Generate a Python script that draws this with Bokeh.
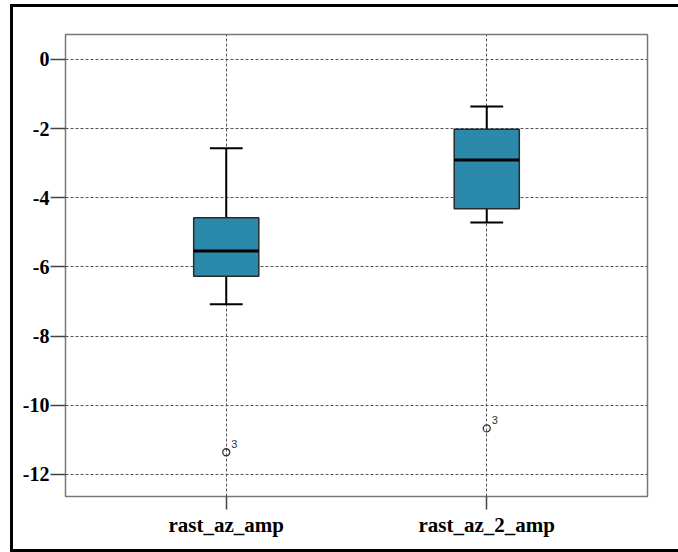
from bokeh.plotting import figure
from bokeh.models import FixedTicker, ColumnDataSource, Range1d
from bokeh.embed import file_html
from bokeh.resources import INLINE
from bokeh.core.properties import value

categories = ["rast_az_amp", "rast_az_2_amp"]
positions = [1, 2]
q1 = [-6.27, -4.32]
median = [-5.54, -2.91]
q3 = [-4.58, -2.02]
whisker_low = [-7.08, -4.72]
whisker_high = [-2.57, -1.36]
outlier_values = [-11.36, -10.67]
outlier_labels = ["3", "3"]
y_ticks = [0, -2, -4, -6, -8, -10, -12]

box_w = 0.25
cap_w = 0.126

p = figure(width=668, height=548, output_backend="svg", toolbar_location=None,
           x_range=Range1d(0.383, 2.617), y_range=Range1d(-12.64, 0.72),
           min_border_left=52, min_border_right=34, min_border_top=27, min_border_bottom=59)
p.styles = {"border-left": "3px solid black", "border-top": "3px solid black",
            "border-bottom": "3px solid black", "box-sizing": "border-box",
            "margin-left": "10px", "margin-top": "4px"}

p.background_fill_color = "white"
p.border_fill_color = "white"
p.outline_line_color = "#777777"
p.outline_line_width = 1.5

# grids
p.xgrid.ticker = FixedTicker(ticks=positions)
p.ygrid.ticker = FixedTicker(ticks=y_ticks)
for g in (p.xgrid, p.ygrid):
    g.grid_line_color = "#555555"
    g.grid_line_dash = "3 2"
    g.grid_line_width = 1

# axes
p.xaxis.ticker = FixedTicker(ticks=positions)
p.xaxis.major_label_overrides = {pos: c for pos, c in zip(positions, categories)}
p.yaxis.ticker = FixedTicker(ticks=y_ticks)
p.yaxis.major_label_overrides = {t: str(t) for t in y_ticks}
for ax in (p.xaxis, p.yaxis):
    ax.axis_line_color = None
    ax.major_tick_line_color = "#444444"
    ax.major_tick_line_width = 1.5
    ax.major_tick_in = 0
    ax.minor_tick_line_color = None
    ax.major_label_text_font = "Liberation Serif"
    ax.major_label_text_font_style = "bold"
    ax.major_label_text_font_size = "20px"
    ax.major_label_text_color = "black"
p.xaxis.major_label_text_font_size = "21px"
p.xaxis.major_tick_out = 13
p.xaxis.major_label_standoff = 3
p.yaxis.major_tick_out = 15
p.yaxis.major_label_standoff = 1

src = ColumnDataSource(dict(x=positions, q1=q1, med=median, q3=q3,
                            lo=whisker_low, hi=whisker_high))

# whiskers
p.segment(x0="x", y0="q3", x1="x", y1="hi", source=src, line_color="black", line_width=2)
p.segment(x0="x", y0="lo", x1="x", y1="q1", source=src, line_color="black", line_width=2)
xl = [x - cap_w / 2 for x in positions]
xr = [x + cap_w / 2 for x in positions]
p.segment(x0=xl, y0=whisker_high, x1=xr, y1=whisker_high, line_color="black", line_width=2)
p.segment(x0=xl, y0=whisker_low, x1=xr, y1=whisker_low, line_color="black", line_width=2)

# boxes
p.vbar(x="x", width=box_w, top="q3", bottom="q1", source=src,
       fill_color="#2B89AB", line_color="#2a2a2a", line_width=1.5)
bl = [x - box_w / 2 for x in positions]
br = [x + box_w / 2 for x in positions]
p.segment(x0=bl, y0=median, x1=br, y1=median, line_color="black", line_width=3)

# outliers
p.scatter(x=positions, y=outlier_values, marker="circle", size=7,
          fill_color=None, line_color="#333333", line_width=1.3)
p.text(x=positions, y=outlier_values, text=outlier_labels, x_offset=5, y_offset=-4,
       text_font=value("Liberation Sans"), text_font_size="11px", text_color="#333333",
       text_baseline="bottom", text_align="left")

open("out.html", "w").write(file_html(p, INLINE))
